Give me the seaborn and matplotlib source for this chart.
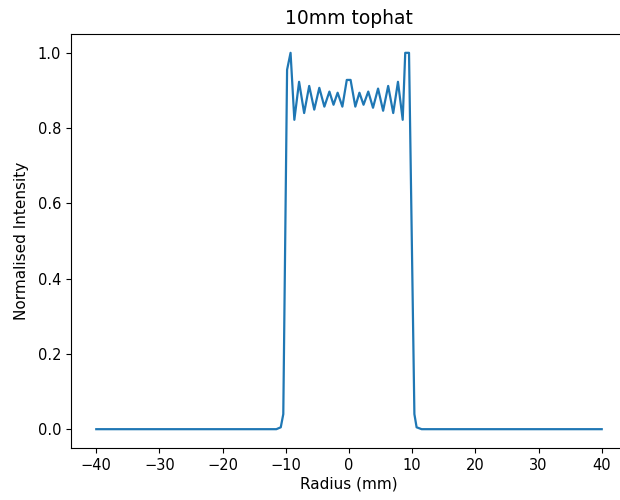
import matplotlib
matplotlib.use("Agg")
import matplotlib.pyplot as plt
import seaborn as sns
import pandas as pd

radius_mm = [-40, -11.5, -10.8, -10.4, -9.8, -9.25, -8.65, -7.9, -7.1, -6.3, -5.5,
             -4.7, -3.9, -3.1, -2.45, -1.8, -1.05, -0.35, 0.25, 1.0, 1.65, 2.3,
             3.05, 3.8, 4.6, 5.4, 6.2, 7.0, 7.75, 8.5, 8.9, 9.5, 10.35, 10.7, 11.5, 40]
intensity = [0.0, 0.0, 0.005, 0.04, 0.955, 1.0, 0.822, 0.923, 0.840, 0.912, 0.849,
             0.907, 0.857, 0.897, 0.862, 0.894, 0.857, 0.928, 0.928, 0.857, 0.894, 0.862,
             0.897, 0.854, 0.905, 0.846, 0.912, 0.840, 0.923, 0.822, 1.0, 1.0, 0.04, 0.005, 0.0, 0.0]

df = pd.DataFrame({"Radius (mm)": radius_mm, "Normalised Intensity": intensity})

fig = plt.figure(figsize=(6.2, 5.0), dpi=100)
ax = fig.add_axes([71/620, 52/500, 556/620, 414/500])
sns.lineplot(data=df, x="Radius (mm)", y="Normalised Intensity", ax=ax,
             color="#1f77b4", linewidth=1.6, sort=False)
ax.set_title("10mm tophat", fontsize=13.5, pad=7)
ax.set_xlabel("Radius (mm)", fontsize=11, labelpad=3)
ax.set_ylabel("Normalised Intensity", fontsize=11, labelpad=6)
ax.set_xticks([-40, -30, -20, -10, 0, 10, 20, 30, 40])
ax.set_yticks([0.0, 0.2, 0.4, 0.6, 0.8, 1.0])
ax.tick_params(labelsize=10.5)
fig.savefig("out.png", dpi=100)
